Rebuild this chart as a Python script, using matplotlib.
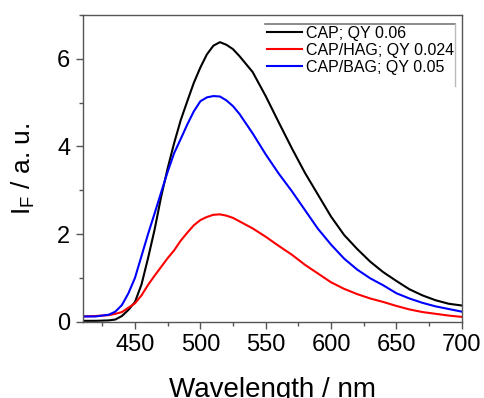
import matplotlib
matplotlib.use("Agg")
import matplotlib.pyplot as plt
from matplotlib.ticker import MultipleLocator

plt.rcParams['font.family'] = ['Liberation Sans', 'DejaVu Sans']
plt.rcParams['mathtext.fontset'] = 'custom'
plt.rcParams['mathtext.rm'] = 'Liberation Sans'

wavelength = [410, 420, 430, 435, 440, 445, 450, 455, 460, 465, 470, 475, 480, 485,
              490, 495, 500, 505, 510, 515, 520, 525, 530, 540, 550, 560, 570, 580,
              590, 600, 610, 620, 630, 640, 650, 660, 670, 680, 690, 700]

cap = [0.02, 0.02, 0.03, 0.05, 0.13, 0.27, 0.45, 0.85, 1.45, 2.10, 2.85, 3.50, 4.08, 4.60,
       5.03, 5.45, 5.80, 6.10, 6.30, 6.38, 6.32, 6.22, 6.06, 5.70, 5.15, 4.55, 3.96, 3.40,
       2.90, 2.40, 1.98, 1.66, 1.37, 1.13, 0.93, 0.74, 0.60, 0.49, 0.41, 0.37]

cap_hag = [0.12, 0.13, 0.15, 0.18, 0.22, 0.32, 0.42, 0.60, 0.84, 1.05, 1.25, 1.45, 1.63, 1.85,
           2.03, 2.20, 2.32, 2.39, 2.44, 2.45, 2.42, 2.37, 2.29, 2.13, 1.94, 1.73, 1.53, 1.30,
           1.10, 0.90, 0.75, 0.63, 0.53, 0.45, 0.36, 0.28, 0.22, 0.18, 0.14, 0.11]

cap_bag = [0.12, 0.12, 0.16, 0.23, 0.38, 0.65, 1.00, 1.50, 2.00, 2.47, 2.95, 3.42, 3.85, 4.17,
           4.50, 4.80, 5.03, 5.12, 5.15, 5.14, 5.05, 4.92, 4.74, 4.30, 3.82, 3.38, 2.98, 2.55,
           2.12, 1.76, 1.44, 1.19, 0.99, 0.83, 0.65, 0.53, 0.43, 0.35, 0.29, 0.23]

labels = ['CAP; QY 0.06', 'CAP/HAG; QY 0.024', 'CAP/BAG; QY 0.05']
colors = ['#000000', '#ff0000', '#0000ff']

fig = plt.figure(figsize=(4.85, 3.98), dpi=100)
ax = fig.add_axes([0.1705, 0.1917, 0.7815, 0.7706])

for ys, lab, col in zip([cap, cap_hag, cap_bag], labels, colors):
    ax.plot(wavelength, ys, color=col, lw=1.5, label=lab)

ax.set_xlim(410, 700)
ax.set_ylim(0, 7)
ax.xaxis.set_major_locator(MultipleLocator(50))
ax.xaxis.set_minor_locator(MultipleLocator(25))
ax.yaxis.set_major_locator(MultipleLocator(2))
ax.yaxis.set_minor_locator(MultipleLocator(1))
ax.set_xticks([450, 500, 550, 600, 650, 700])

spine_col = '#555555'
for s in ax.spines.values():
    s.set_color(spine_col)
    s.set_linewidth(1.0)
ax.tick_params(which='both', direction='out', color=spine_col, width=1.0,
               top=False, right=False)
ax.tick_params(which='major', length=5, labelsize=17, pad=4)
ax.tick_params(which='minor', length=3)

ax.set_xlabel('Wavelength / nm', fontsize=20, labelpad=15)
ax.set_ylabel(r'$\mathregular{I_F}$ / a. u.', fontsize=19, labelpad=14)

leg = ax.legend(loc='upper left', bbox_to_anchor=(0.4866, 0.965), frameon=False,
                fontsize=11.5, handlelength=2.2, handletextpad=0.25,
                labelspacing=0.12, borderpad=0, borderaxespad=0)

ax.plot([0.481, 0.982], [0.9697, 0.9697], transform=ax.transAxes, color='#777777',
        lw=1.2, clip_on=False)
ax.plot([0.982, 0.982], [0.9697, 0.7685], transform=ax.transAxes, color='#bbbbbb',
        lw=1.0, clip_on=False)

fig.savefig('out.png', dpi=100)
